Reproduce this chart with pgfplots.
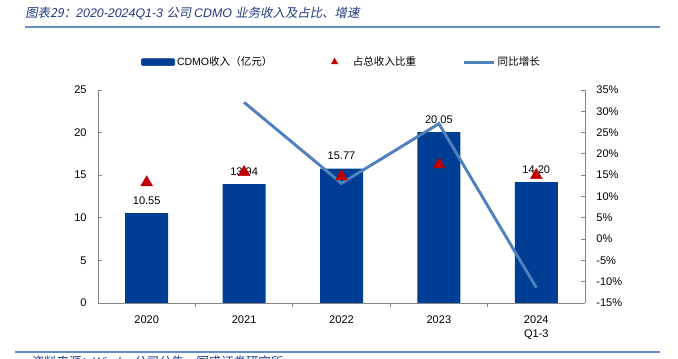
\documentclass[border=0pt]{standalone}
\usepackage{fontspec}
\setmainfont{Liberation Sans}
\newfontfamily\cjk{Noto Sans CJK SC}
\newfontfamily\cjkit{Noto Sans CJK SC}[FakeSlant=0.2]
\usepackage{pgfplots}
\pgfplotsset{compat=1.18}
\definecolor{barblue}{RGB}{0,62,150}
\definecolor{lineblue}{RGB}{79,129,189}
\definecolor{tri}{RGB}{192,0,0}
\definecolor{titleblue}{RGB}{31,58,130}
\definecolor{axgray}{RGB}{134,134,134}
\definecolor{rule}{RGB}{100,140,200}
\begin{document}
\begin{tikzpicture}
\useasboundingbox (0,0) rectangle (508.5pt,269.25pt);
\node[anchor=west, inner sep=0, text=titleblue, font=\fontsize{9.3}{11}\selectfont] at (18.75pt,259.5pt)
  {{\cjkit 图表29：}{\itshape 2020-2024Q1-3 }{\cjkit 公司 }{\itshape CDMO }{\cjkit 业务收入及占比、增速}};
\draw[rule, line width=1.2pt] (18.75pt,249pt) -- (495pt,249pt);
\draw[rule, line width=0.8pt] (11.25pt,5.25pt) -- (495pt,5.25pt);
\node[anchor=north west, inner sep=0, text=titleblue, font=\fontsize{9.3}{11}\selectfont] at (22.5pt,2.6pt)
  {{\cjkit 资料来源：}{\itshape Wind}{\cjkit ，公司公告，国盛证券研究所}};

\begin{axis}[
  at={(73.5pt,42pt)}, anchor=south west, scale only axis,
  width=365.25pt, height=159.75pt,
  xmin=-0.5, xmax=4.5, ymin=0, ymax=25,
  ytick={0,5,...,25},
  xtick={0,1,2,3,4},
  xticklabels={2020,2021,2022,2023,{2024\\Q1-3}},
  minor xtick={0.5,1.5,2.5,3.5},
  major x tick style={draw=none},
  minor x tick style={draw=axgray, line width=0.6pt},
  minor tick length=3pt,
  axis x line*=bottom, axis y line*=left,
  axis line style={draw=axgray, line width=0.6pt},
  tick align=inside, major tick length=3pt,
  tick style={axgray, line width=0.6pt},
  /pgf/number format/assume math mode=true,
  every tick label/.append style={font=\fontsize{8.3}{10.5}\selectfont, text=black},
  xticklabel style={align=center, yshift=-3pt},
  yticklabel style={xshift=-5pt},
  ybar, bar width=32.25pt,
  nodes near coords={\pgfmathprintnumber[fixed,fixed zerofill,precision=2]{\pgfplotspointmeta}},
  nodes near coords style={font=\fontsize{8.3}{10}\selectfont, text=black, yshift=3pt},
]
\addplot[fill=barblue, draw=none] coordinates {(0,10.55) (1,13.94) (2,15.77) (3,20.05) (4,14.20)};
\end{axis}

\begin{axis}[
  at={(73.5pt,42pt)}, anchor=south west, scale only axis,
  width=365.25pt, height=159.75pt,
  xmin=-0.5, xmax=4.5, ymin=-15, ymax=35,
  ytick={-15,-10,...,35},
  axis x line=none, axis y line*=right,
  axis line style={draw=axgray, line width=0.6pt},
  tick align=inside, major tick length=3pt,
  tick style={axgray, line width=0.6pt},
  /pgf/number format/assume math mode=true,
  yticklabel={\pgfmathprintnumber{\tick}\%},
  every tick label/.append style={font=\fontsize{8.3}{10.5}\selectfont, text=black},
  yticklabel style={xshift=5pt},
  legend style={at={(0.5,1.131)}, anchor=center, draw=none, fill=none,
    legend columns=3, font=\fontsize{7.9}{9.5}\selectfont,
    nodes={inner sep=1.5pt},
    /tikz/every even column/.append style={column sep=33pt}},
]
\addlegendimage{legend image code/.code={\fill[barblue, rounded corners=1pt] (0pt,-2.6pt) rectangle (25pt,2.6pt);}}
\addlegendentry{CDMO{\cjk 收入（亿元）}}
\addplot[lineblue, line width=2.2pt, forget plot] coordinates {(1,32.1) (2,13.1) (3,27.1) (4,-11.4)};
\addplot[only marks, mark=triangle*, mark size=5pt, color=tri,
  legend image code/.code={\path (0pt,0pt) (24pt,0pt); \draw[mark size=2.8pt] plot coordinates {(12pt,0pt)};}]
  coordinates {(0,13.3) (1,15.7) (2,14.7) (3,17.5) (4,15.0)};
\addlegendentry{\cjk 占总收入比重}
\addlegendimage{legend image code/.code={\draw[lineblue, line width=2.2pt] (0pt,0pt) -- (23pt,0pt);}}
\addlegendentry{\cjk 同比增长}
\end{axis}
\end{tikzpicture}
\end{document}
